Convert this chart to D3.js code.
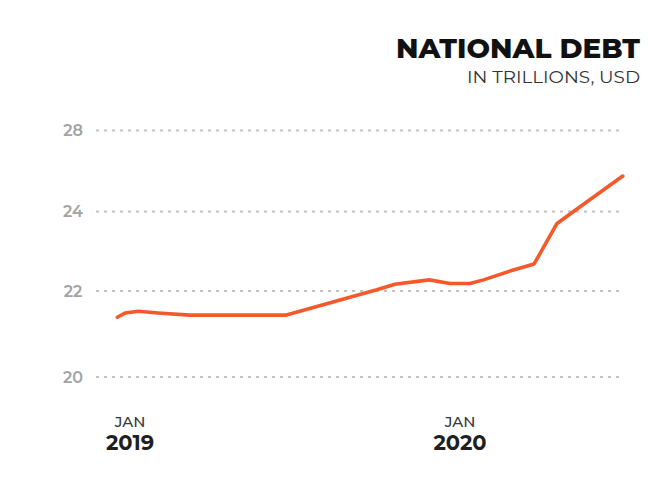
<!DOCTYPE html>
<html>
<head>
<meta charset="utf-8">
<script src="https://cdn.jsdelivr.net/npm/d3@7"></script>
<style>
  html, body { margin: 0; padding: 0; background: #fff; }
  svg { display: block; }
</style>
</head>
<body>
<svg id="chart" width="669" height="485"></svg>
<script>
// Readings of total public debt, trillions of USD
const dates = ["2018-12-18","2018-12-27","2019-01-10","2019-02-01","2019-03-08",
               "2019-06-23","2019-10-01","2019-10-21","2019-11-28","2019-12-21",
               "2020-01-12","2020-01-27","2020-02-29","2020-03-23","2020-04-17",
               "2020-05-09","2020-06-29"];
const debt = [21.39, 21.49, 21.53, 21.49, 21.44,
              21.44, 22.03, 22.17, 22.28, 22.19,
              22.19, 22.28, 22.53, 22.68, 23.69,
              24.11, 25.75];
const yTicks = [20, 22, 24, 28];
const xTickDates = ["2019-01-01", "2020-01-01"];
const xTickMonths = ["JAN", "JAN"];
const xTickYears = ["2019", "2020"];

const parse = d3.timeParse("%Y-%m-%d");
const data = dates.map((d, i) => ({ date: parse(d), value: debt[i] }));

const svg = d3.select("#chart");

// time axis: Jan 2019 to Jan 2020 spans the inner plot
const x = d3.scaleTime()
  .domain([parse(xTickDates[0]), parse(xTickDates[1])])
  .range([130, 460]);

// gridlines sit at even spacing, so the value scale is piecewise between ticks
const y = d3.scaleLinear()
  .domain(yTicks)
  .range([377, 291, 211.5, 130.5]);

const gridX0 = 96, gridX1 = 620;

// dotted gridlines
svg.append("g")
  .selectAll("line")
  .data(yTicks)
  .join("line")
  .attr("x1", gridX0)
  .attr("x2", gridX1)
  .attr("y1", d => y(d))
  .attr("y2", d => y(d))
  .attr("stroke", "#c2c2c2")
  .attr("stroke-width", 2)
  .attr("stroke-dasharray", "3,5");

// value labels
svg.append("g")
  .selectAll("text")
  .data(yTicks)
  .join("text")
  .attr("x", 73)
  .attr("y", d => y(d) + 5.5)
  .attr("text-anchor", "middle")
  .attr("font-family", "Montserrat, 'Open Sans', sans-serif")
  .attr("font-size", 16)
  .attr("font-weight", 600)
  .attr("fill", "#a3a3a3")
  .text(d => d);

// month / year labels
const xg = svg.append("g")
  .selectAll("g")
  .data(xTickDates)
  .join("g")
  .attr("transform", d => `translate(${x(parse(d))},0)`);

xg.append("text")
  .attr("y", 427)
  .attr("text-anchor", "middle")
  .attr("font-family", "Montserrat, 'Open Sans', sans-serif")
  .attr("font-size", 15)
  .attr("font-weight", 500)
  .attr("fill", "#3a3a3a")
  .text((d, i) => xTickMonths[i]);

xg.append("text")
  .attr("y", 450)
  .attr("text-anchor", "middle")
  .attr("font-family", "Montserrat, 'Open Sans', sans-serif")
  .attr("font-size", 21)
  .attr("font-weight", 700)
  .attr("fill", "#1f1f1f")
  .text((d, i) => xTickYears[i]);

// debt line
const line = d3.line()
  .x(d => x(d.date))
  .y(d => y(d.value))
  .curve(d3.curveLinear);

svg.append("path")
  .datum(data)
  .attr("d", line)
  .attr("fill", "none")
  .attr("stroke", "#f4592a")
  .attr("stroke-width", 3.6)
  .attr("stroke-linecap", "round")
  .attr("stroke-linejoin", "round");

// title block
svg.append("text")
  .attr("x", 640)
  .attr("y", 58)
  .attr("text-anchor", "end")
  .attr("font-family", "Montserrat, 'Open Sans', sans-serif")
  .attr("font-size", 27)
  .attr("font-weight", 800)
  .attr("fill", "#111")
  .attr("textLength", 244)
  .attr("lengthAdjust", "spacingAndGlyphs")
  .text("NATIONAL DEBT");

svg.append("text")
  .attr("x", 640)
  .attr("y", 83)
  .attr("text-anchor", "end")
  .attr("font-family", "Montserrat, 'Open Sans', sans-serif")
  .attr("font-size", 17.5)
  .attr("fill", "#333")
  .attr("textLength", 173)
  .attr("lengthAdjust", "spacingAndGlyphs")
  .text("IN TRILLIONS, USD");
</script>
</body>
</html>
